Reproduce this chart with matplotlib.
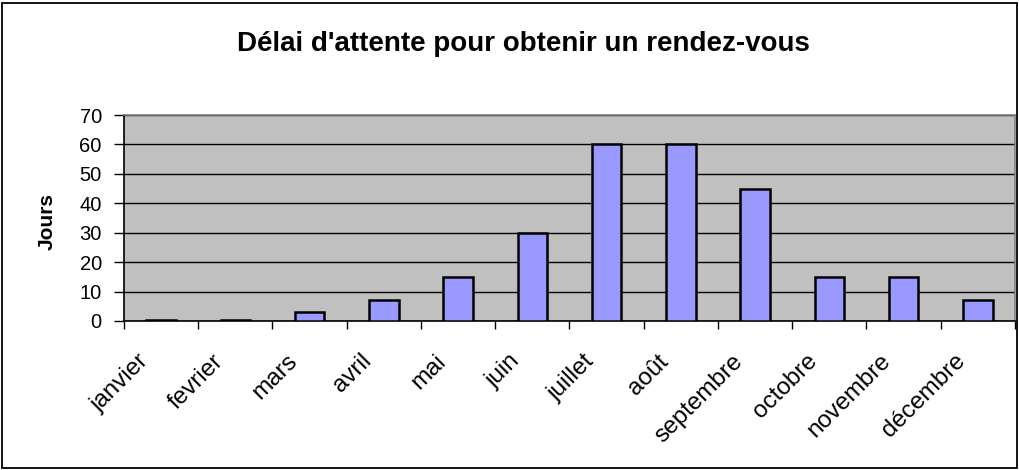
import matplotlib
matplotlib.use("Agg")
import matplotlib.pyplot as plt
import matplotlib.transforms as mtransforms
from matplotlib.patches import Rectangle
import numpy as np

plt.rcParams['font.family'] = ['Liberation Sans', 'DejaVu Sans']

months = ["janvier", "fevrier", "mars", "avril", "mai", "juin", "juillet",
          "août", "septembre", "octobre", "novembre", "décembre"]
jours = [0.5, 0.5, 3, 7, 15, 30, 60, 60, 45, 15, 15, 7]
yticks = [0, 10, 20, 30, 40, 50, 60, 70]
title = "Délai d'attente pour obtenir un rendez-vous"
ylabel = "Jours"

W, H = 1020, 470
fig = plt.figure(figsize=(W / 100, H / 100), dpi=100)
fig.patch.set_facecolor("white")

left, right, top, bottom = 124, 1015, 115, 321
ax = fig.add_axes([left / W, 1 - bottom / H, (right - left) / W, (bottom - top) / H])
ax.set_facecolor("#C0C0C0")

x = np.arange(len(months))
ax.bar(x, jours, width=0.4, color="#9999FF", edgecolor="black", linewidth=1.8, zorder=3)

ax.set_xlim(-0.5, len(months) - 0.5)
ax.set_ylim(0, 70)
ax.set_yticks(yticks)
ax.set_yticklabels([str(v) for v in yticks], fontsize=14.5)
ax.yaxis.grid(True, color="black", linewidth=1.0, zorder=1)
ax.set_axisbelow(True)

# major ticks at centers (labels only), minor ticks at boundaries (marks)
ax.set_xticks(x)
ax.set_xticklabels(months, fontsize=17.5, rotation=45, ha="right", va="top",
                   rotation_mode="default")
ax.tick_params(axis="x", which="major", length=0, pad=21)
ax.set_xticks(np.arange(-0.5, len(months), 1.0), minor=True)
ax.tick_params(axis="x", which="minor", length=6, width=1, color="black", direction="out")
ax.tick_params(axis="y", length=7, width=1, color="black", direction="out", pad=9)

offset = mtransforms.ScaledTranslation(-8 / 100, 0, fig.dpi_scale_trans)
for lab in ax.get_xticklabels():
    lab.set_transform(lab.get_transform() + offset)

for side in ["top", "right"]:
    ax.spines[side].set_color("#808080")
    ax.spines[side].set_linewidth(1.2)
for side in ["left", "bottom"]:
    ax.spines[side].set_color("black")
    ax.spines[side].set_linewidth(1.2)

fig.text(523 / W, 1 - 51 / H, title, ha="center", va="baseline",
         fontsize=20, fontweight="bold")
fig.text(47 / W, 1 - 221 / H, ylabel, ha="center", va="center",
         rotation=90, fontsize=15, fontweight="bold")

fig.patches.append(Rectangle((2.5 / W, 2.5 / H), (W - 5) / W, (H - 5) / H,
                             transform=fig.transFigure, fill=False,
                             edgecolor="black", linewidth=1.3))

fig.savefig("out.png", dpi=100)
